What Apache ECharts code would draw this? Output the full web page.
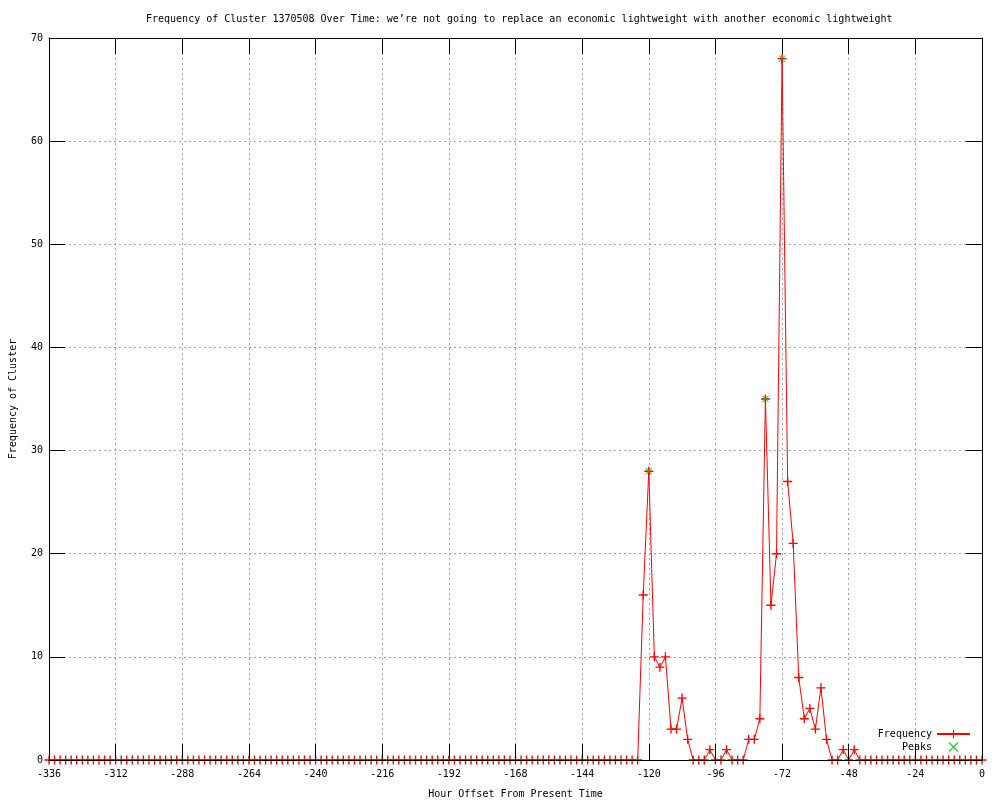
<!DOCTYPE html>
<html>
<head>
<meta charset="utf-8">
<script src="https://cdn.jsdelivr.net/npm/echarts@6/dist/echarts.min.js"></script>
<style>html,body{margin:0;padding:0;background:#fff;}#c{width:1000px;height:800px;}</style>
</head>
<body>
<div id="c"></div>
<script>
// ---- data ----
const titleText = 'Frequency of Cluster 1370508 Over Time: we’re not going to replace an economic lightweight with another economic lightweight';
const xAxisTitle = 'Hour Offset From Present Time';
const yAxisTitle = 'Frequency of Cluster';
const startHour = -336;
const stepHours = 2;
// frequency at every 2 hours from -336 to 0
const frequencyValues = [
  0,0,0,0,0,0,0,0,0,0, 0,0,0,0,0,0,0,0,0,0,
  0,0,0,0,0,0,0,0,0,0, 0,0,0,0,0,0,0,0,0,0,
  0,0,0,0,0,0,0,0,0,0, 0,0,0,0,0,0,0,0,0,0,
  0,0,0,0,0,0,0,0,0,0, 0,0,0,0,0,0,0,0,0,0,
  0,0,0,0,0,0,0,0,0,0, 0,0,0,0,0,0,0,0,0,0,
  0,0,0,0,0,0,
  0,16,28,10,9,10,3,3,6,2,
  0,0,0,1,0,0,1,0,0,0,
  2,2,4,35,15,20,68,27,21,8,
  4,5,3,7,2,0,0,1,0,1,
  0,0,0,0,0,0,0,0,0,0, 0,0,0,0,0,0,0,0,0,0, 0,0,0
];
const peakHours = [-120, -78, -72];
const peakValues = [28, 35, 68];

// ---- build ----
const freqData = frequencyValues.map((v, i) => [startHour + i * stepHours, v]);
const peakData = peakHours.map((h, i) => [h, peakValues[i]]);

const FONT = 'DejaVu Sans Mono';
const plusPath = 'path://M-0.15,-1H0.15V-0.15H1V0.15H0.15V1H-0.15V0.15H-1V-0.15H-0.15Z';
const xPath = 'path://M-1,-0.8L-0.8,-1L0,-0.2L0.8,-1L1,-0.8L0.2,0L1,0.8L0.8,1L0,0.2L-0.8,1L-1,0.8L-0.2,0Z';
const gridLine = {show: true, lineStyle: {color: '#a0a0a0', type: [2, 3], width: 1}};
const frameLine = {show: true, onZero: false, lineStyle: {color: '#000', width: 1}};
const frameTick = {show: true, inside: true, length: 16, lineStyle: {color: '#000', width: 1}};
const labelStyle = {fontFamily: FONT, fontSize: 10, color: '#000'};

const chart = echarts.init(document.getElementById('c'), null, {renderer: 'canvas'});
chart.setOption({
  animation: false,
  backgroundColor: '#fff',
  title: {
    text: titleText,
    left: 141, top: 9,
    textStyle: {fontFamily: FONT, fontSize: 10, fontWeight: 'normal', color: '#000'}
  },
  legend: {
    orient: 'vertical', right: 24, top: 724, align: 'right',
    itemWidth: 33, itemHeight: 10, itemGap: 3,
    textStyle: labelStyle,
    data: ['Frequency', 'Peaks']
  },
  grid: {left: 49, right: 18, top: 38, bottom: 40, containLabel: false, outerBoundsMode: 'none'},
  xAxis: [
    {
      type: 'value', position: 'bottom', min: -336, max: 0, interval: 24,
      name: xAxisTitle, nameLocation: 'middle', nameGap: 29,
      nameTextStyle: labelStyle,
      axisLine: frameLine, axisTick: frameTick,
      axisLabel: Object.assign({margin: 9}, labelStyle),
      splitLine: {show: false},
      z: 10
    },
    {
      type: 'value', position: 'top', min: -336, max: 0, interval: 24,
      axisLine: frameLine, axisTick: frameTick,
      axisLabel: {show: false},
      splitLine: gridLine,
      z: 0
    }
  ],
  yAxis: [
    {
      type: 'value', position: 'left', min: 0, max: 70, interval: 10,
      name: yAxisTitle, nameLocation: 'middle', nameGap: 31, nameRotate: 90,
      nameTextStyle: labelStyle,
      axisLine: frameLine, axisTick: frameTick,
      axisLabel: Object.assign({margin: 6}, labelStyle),
      splitLine: {show: false},
      z: 10
    },
    {
      type: 'value', position: 'right', min: 0, max: 70, interval: 10,
      axisLine: frameLine, axisTick: frameTick,
      axisLabel: {show: false},
      splitLine: gridLine,
      z: 0
    }
  ],
  series: [
    {
      name: 'Frequency', type: 'line', xAxisIndex: 0, yAxisIndex: 0,
      data: freqData, showAllSymbol: true,
      symbol: plusPath, symbolSize: 9,
      itemStyle: {color: '#ff0000'},
      lineStyle: {color: '#ff0000', width: 1},
      z: 3
    },
    {
      name: 'Peaks', type: 'scatter', xAxisIndex: 0, yAxisIndex: 0,
      data: peakData, symbol: xPath, symbolSize: 7,
      itemStyle: {color: '#00c000'},
      z: 4
    }
  ]
});
</script>
</body>
</html>
